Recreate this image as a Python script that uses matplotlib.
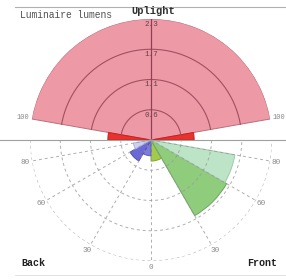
import numpy as np
import matplotlib
matplotlib.use("Agg")
import matplotlib.pyplot as plt
from matplotlib.lines import Line2D

# ---- data (zone lumens) ----
zones = ["UH", "UL", "UL", "FL", "FM", "FH", "BL", "BM", "BH"]
zone_start = [100, 90, -100, 0, 30, 60, -30, -60, -80]      # degrees from nadir (front +, back -)
zone_end = [260, 100, -90, 30, 60, 80, 0, -30, -60]
zone_value = [2.3, 0.82, 0.82, 0.40, 1.66, 1.62, 0.30, 0.46, 0.34]
zone_color = ["#EE9AA6", "#E8322C", "#E8322C", "#A2CC48", "#8FCC7C", "#BDE4C6",
              "#7C7CDC", "#6A6AD4", "#CFCFF2"]
zone_edge = ["#B8707C", "#C82020", "#C82020", "#7EA838", "#6AA85C", "#9CCCA6",
             "#5A5ABC", "#5050B8", "#B0B0E0"]

ring_values = [0.575, 1.15, 1.725, 2.3]
ring_labels = ["0.6", "1.1", "1.7", "2.3"]
spoke_angles = [0, 30, 60, 80, -30, -60, -80]
spoke_labels = ["0", "30", "60", "80", "30", "60", "80"]
edge_angles = [100, -100]
edge_labels = ["100", "100"]

fig = plt.figure(figsize=(2.86, 2.80), dpi=100)
W, H = 286, 280
cx, cy, R = 151, 140, 121
ax = fig.add_axes([(cx - R) / W, (H - cy - R) / H, 2 * R / W, 2 * R / H], projection="polar")
ax.set_theta_zero_location("S")
ax.set_theta_direction(1)
ax.set_ylim(0, ring_values[-1])
ax.grid(False)
ax.set_xticks([])
ax.set_yticks([])
ax.spines["polar"].set_visible(False)
ax.patch.set_alpha(0)

# zones
for s, e, v, c, ec in zip(zone_start, zone_end, zone_value, zone_color, zone_edge):
    a0, a1 = np.deg2rad(s), np.deg2rad(e)
    ax.bar((a0 + a1) / 2, v, width=abs(a1 - a0), bottom=0, color=c,
           edgecolor=ec, linewidth=0.7, zorder=2)

# upper rings (solid, inside the uplight fan)
for rv in ring_values[:-1]:
    th = np.deg2rad(np.linspace(100, 260, 200))
    ax.plot(th, np.full_like(th, rv), color="#A05060", lw=0.8, zorder=3)
# vertical axis
ax.plot([np.pi, np.pi], [0, ring_values[-1]], color="#904050", lw=0.9, zorder=3)

# lower rings (dashed)
for rv in ring_values:
    th = np.deg2rad(np.linspace(-90, 90, 300))
    ax.plot(th, np.full_like(th, rv), color="#9A9A9A", lw=0.7,
            ls=(0, (3, 3)), alpha=0.8, zorder=3)
for a in spoke_angles:
    ax.plot([np.deg2rad(a)] * 2, [0, ring_values[-1]], color="#9A9A9A", lw=0.7,
            ls=(0, (3, 3)), alpha=0.8, zorder=3)

# ring labels along the vertical axis
for rv, lab in zip(ring_values, ring_labels):
    ax.text(np.pi, rv - 0.1, lab, ha="center", va="center", fontsize=5.5,
            family="Liberation Mono", color="#604048", zorder=4)

# angle labels
for a, lab in zip(spoke_angles, spoke_labels):
    ax.text(np.deg2rad(a), 2.42, lab, ha="center", va="center", fontsize=5.5,
            family="Liberation Mono", color="#888888", clip_on=False)
for a, lab in zip(edge_angles, edge_labels):
    ax.text(np.deg2rad(a), 2.47, lab, ha="center", va="center", fontsize=5,
            family="Liberation Mono", color="#888888", clip_on=False)

# frame lines
fig.add_artist(Line2D([0, 1], [0.5, 0.5], color="#A0A0A0", lw=0.8, zorder=1))
fig.add_artist(Line2D([15 / W, 1], [1 - 7 / H, 1 - 7 / H], color="#B0B0B0", lw=0.8))
fig.add_artist(Line2D([15 / W, 1], [1 - 275 / H, 1 - 275 / H], color="#DDDDDD", lw=0.6))

fig.text(20 / W, 1 - 15.5 / H, "Luminaire lumens", ha="left", va="center",
         fontsize=6.9, family="Liberation Mono", color="#505050")
fig.text(153 / W, 1 - 11.5 / H, "Uplight", ha="center", va="center",
         fontsize=7.5, family="Liberation Mono", color="#303030", weight="bold")
fig.text(21 / W, 1 - 263 / H, "Back", ha="left", va="center",
         fontsize=7.2, family="Liberation Mono", color="#202020", weight="bold")
fig.text(277 / W, 1 - 263 / H, "Front", ha="right", va="center",
         fontsize=7.2, family="Liberation Mono", color="#202020", weight="bold")

fig.savefig("out.png", dpi=100)
